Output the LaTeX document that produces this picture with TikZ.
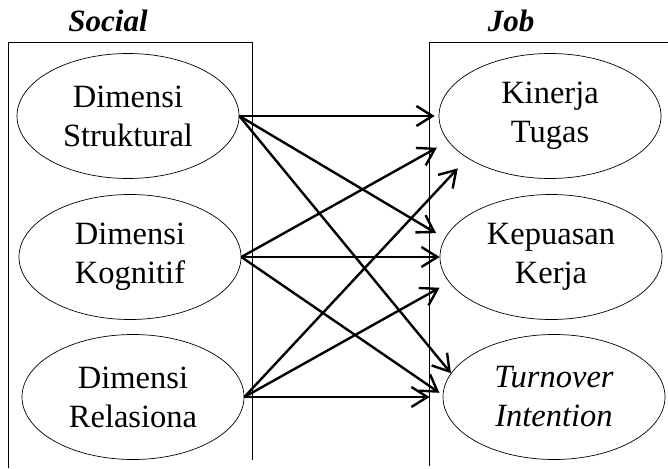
\documentclass[tikz,border=0pt]{standalone}
\usepackage{fontspec}
\setmainfont{Liberation Serif}
\usepackage{tikz}
\usetikzlibrary{arrows.meta,positioning,shapes.geometric}

\begin{document}
\begin{tikzpicture}[
        x=1pt, y=-1pt,
        dim/.style={draw, ellipse, line width=0.7pt, minimum width=222pt, minimum height=125pt, inner sep=0pt, align=center, font=\fontsize{32.5}{39}\selectfont},
        head/.style={anchor=base, font=\fontsize{31}{34}\selectfont\bfseries\itshape},
        frame/.style={line width=0.8pt},
        link/.style={->, line width=2.4pt},
        >={Straight Barb[length=16pt,width=20pt]}
    ]
        \useasboundingbox (0,0) rectangle (668,468);
        \node[head] (social) at (108,31.5) {Social};
        \node[head] (job) at (511,31.5) {Job};
        \draw[frame] (8,468) -- (8,42) -- (252,42) -- (252,460);
        \draw[frame] (429,466) -- (429,42) -- (668,42);
        \node[dim] (str) at (128,116) {Dimensi\\Struktural};
        \node[dim] (kog) at (130,257) {Dimensi\\Kognitif};
        \node[dim] (rel) at (133,397) {Dimensi\\Relasiona};
        \node[dim] (kin) at (550,116) {Kinerja\\Tugas};
        \node[dim] (kep) at (551,257) {Kepuasan\\Kerja};
        \node[dim] (tur) at (554,397) {\itshape Turnover\\\itshape Intention};
        \draw[link, shorten >=4pt] (str.east) -- (kin.west);
        \draw[link, shorten >=10pt] (str.east) -- (kep.170);
        \draw[link] (str.east) -- (tur.167);
        \draw[link, shorten >=13pt] (kog.east) -- (kin.194);
        \draw[link] (kog.east) -- (kep.west);
        \draw[link, shorten >=4pt] (kog.east) -- (tur.179);
        \draw[link, shorten >=14pt] (rel.east) -- (kin.207);
        \draw[link, shorten >=11pt] (rel.east) -- (kep.194);
        \draw[link, shorten >=13pt] (rel.east) -- (tur.west);
    \end{tikzpicture}
\end{document}
